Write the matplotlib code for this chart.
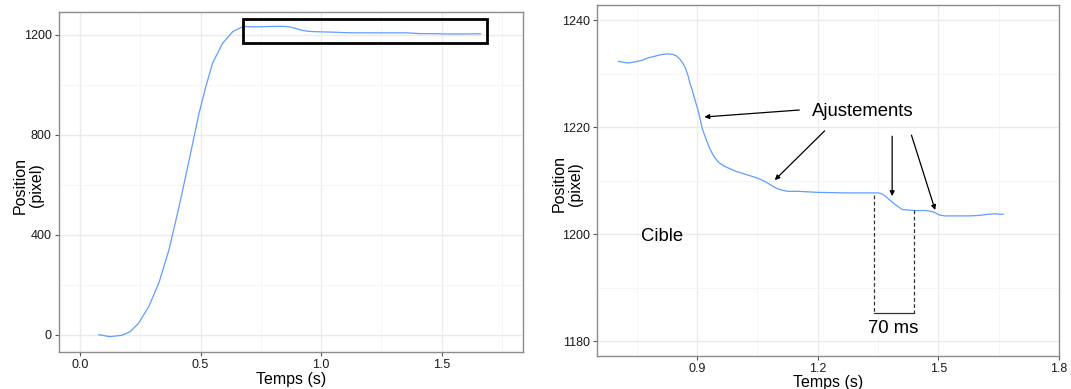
import matplotlib
matplotlib.use('Agg')
import matplotlib.pyplot as plt
from matplotlib.ticker import MultipleLocator

plt.rcParams['font.family'] = ['Liberation Sans', 'DejaVu Sans']

# Temps (s) et position (pixel)
temps = [0.078, 0.124, 0.173, 0.208, 0.243, 0.285, 0.327, 0.369, 0.411, 0.453,
         0.494, 0.522, 0.550, 0.592, 0.634, 0.676, 0.704, 0.717, 0.729, 0.746,
         0.763, 0.780, 0.797, 0.813, 0.826, 0.839, 0.849, 0.857, 0.864, 0.871,
         0.877, 0.882, 0.889, 0.896, 0.902, 0.908, 0.914, 0.923, 0.931, 0.941,
         0.952, 0.965, 0.982, 0.998, 1.015, 1.032, 1.049, 1.061, 1.074, 1.087,
         1.099, 1.112, 1.124, 1.150, 1.200, 1.267, 1.351, 1.360, 1.368, 1.377,
         1.385, 1.393, 1.402, 1.410, 1.423, 1.444, 1.469, 1.484, 1.492, 1.501,
         1.515, 1.545, 1.578, 1.603, 1.624, 1.641, 1.654, 1.661]
position = [1.3, -6.7, -1.3, 13, 47, 113, 207, 340, 513, 700,
            887, 993, 1087, 1167, 1213, 1233, 1232.3, 1232.1, 1232.0, 1232.2,
            1232.5, 1233.0, 1233.3, 1233.6, 1233.7, 1233.6, 1233.3, 1232.7, 1232.0, 1231.0,
            1229.7, 1228.2, 1226.6, 1224.7, 1223.2, 1221.3, 1219.4, 1217.6, 1216.0, 1214.6,
            1213.5, 1212.8, 1212.2, 1211.7, 1211.3, 1210.9, 1210.5, 1210.1, 1209.6, 1209.0,
            1208.5, 1208.2, 1208.0, 1208.0, 1207.8, 1207.7, 1207.7, 1207.5, 1207.1, 1206.5,
            1206.0, 1205.5, 1205.0, 1204.6, 1204.5, 1204.4, 1204.4, 1204.2, 1204.0, 1203.6,
            1203.4, 1203.4, 1203.4, 1203.5, 1203.7, 1203.8, 1203.7, 1203.7]

zoom_debut = 0.7
ligne_bleue = '#619CFF'


def style_ggplot(ax):
    ax.set_facecolor('white')
    ax.grid(which='major', color='#ebebeb', linewidth=1.0)
    ax.grid(which='minor', color='#f5f5f5', linewidth=0.6)
    ax.set_axisbelow(True)
    for s in ax.spines.values():
        s.set_color('#8c8c8c')
        s.set_linewidth(1.0)
    ax.tick_params(which='major', length=3, color='#555555', labelsize=9,
                   labelcolor='#1a1a1a', pad=2)
    ax.tick_params(which='minor', length=0)
    ax.xaxis.set_major_formatter(plt.FuncFormatter(lambda v, p: f'{v:.1f}'))


fig = plt.figure(figsize=(10.71, 3.89), dpi=100)

# Panneau de gauche : mouvement complet
ax1 = fig.add_axes([0.0548, 0.0951, 0.4338, 0.8753])
ax1.plot(temps, position, color=ligne_bleue, linewidth=0.9)
ax1.set_xlim(-0.088, 1.838)
ax1.set_ylim(-68, 1293)
ax1.xaxis.set_major_locator(MultipleLocator(0.5))
ax1.xaxis.set_minor_locator(MultipleLocator(0.25))
ax1.yaxis.set_major_locator(MultipleLocator(400))
ax1.yaxis.set_minor_locator(MultipleLocator(200))
style_ggplot(ax1)
ax1.add_patch(plt.Rectangle((0.677, 1166), 1.012, 96, fill=False,
                            edgecolor='black', linewidth=2.0, zorder=3))
ax1.set_xlabel('Temps (s)', fontsize=11.5, labelpad=1)
ax1.set_ylabel('Position\n(pixel)', fontsize=11.5, linespacing=1.1)
ax1.yaxis.set_label_coords(-0.032, 0.49)

# Panneau de droite : zoom sur la fin du mouvement
t2 = [t for t in temps if t >= zoom_debut]
p2 = [p for t, p in zip(temps, position) if t >= zoom_debut]
ax2 = fig.add_axes([0.5571, 0.0848, 0.4317, 0.9032])
ax2.plot(t2, p2, color=ligne_bleue, linewidth=0.9)
ax2.set_xlim(0.65, 1.8)
ax2.set_ylim(1177.2, 1242.9)
ax2.xaxis.set_major_locator(MultipleLocator(0.3))
ax2.xaxis.set_minor_locator(MultipleLocator(0.15))
ax2.yaxis.set_major_locator(MultipleLocator(20))
ax2.yaxis.set_minor_locator(MultipleLocator(10))
style_ggplot(ax2)
ax2.set_xlabel('Temps (s)', fontsize=11.5, labelpad=0)
ax2.set_ylabel('Position\n(pixel)', fontsize=11.5, linespacing=1.1)
ax2.yaxis.set_label_coords(-0.029, 0.49)

ax2.text(1.313, 1222.9, 'Ajustements', fontsize=13.3, ha='center', va='center')
ax2.text(0.813, 1199.5, 'Cible', fontsize=13.3, ha='center', va='center')
ax2.text(1.387, 1182.4, '70 ms', fontsize=13.3, ha='center', va='center')

fleches = [((1.154, 1223.2), (0.918, 1221.9)),
           ((1.217, 1219.3), (1.093, 1210.1)),
           ((1.385, 1218.3), (1.385, 1207.1)),
           ((1.433, 1218.5), (1.492, 1204.5))]
for queue, tete in fleches:
    ax2.annotate('', xy=tete, xytext=queue,
                 arrowprops=dict(arrowstyle='-|>', color='black', lw=0.9,
                                 mutation_scale=7, shrinkA=0, shrinkB=0))

ax2.plot([1.339, 1.339], [1207.3, 1185.3], color='#333333', lw=0.9, ls=(0, (3, 2)))
ax2.plot([1.439, 1.439], [1204.5, 1185.3], color='#333333', lw=0.9, ls=(0, (3, 2)))
ax2.plot([1.339, 1.439], [1185.3, 1185.3], color='#333333', lw=0.9)

fig.savefig('out.png', dpi=100, facecolor='white')
